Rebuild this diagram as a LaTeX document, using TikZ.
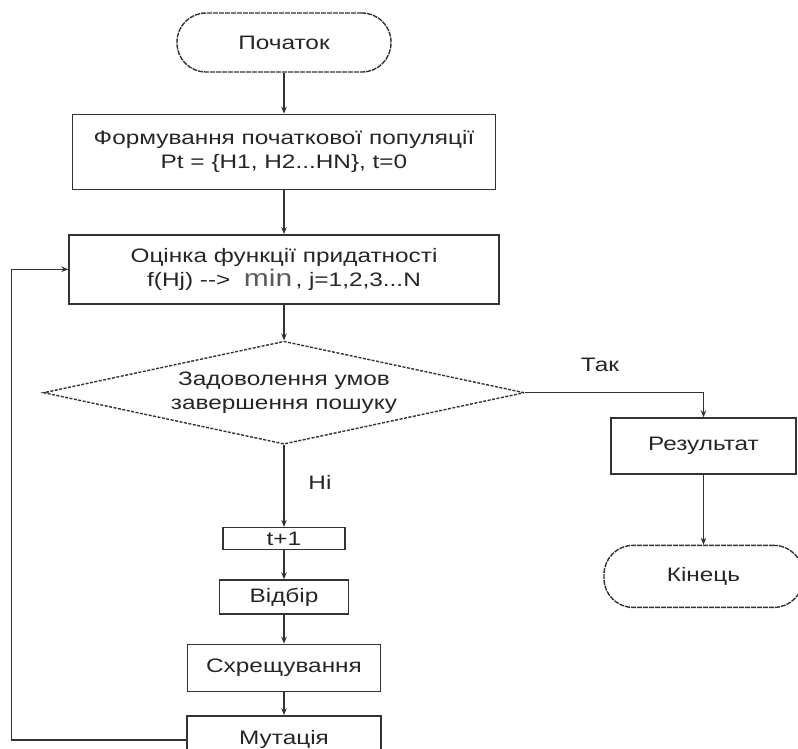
\documentclass[tikz,border=0pt]{standalone}
\usepackage{fontspec}
\setmainfont{Liberation Sans}[FakeStretch=1.25]
\usepackage{tikz}
\usetikzlibrary{positioning,arrows.meta,shapes.geometric}

\begin{document}
\begin{tikzpicture}[x=1pt,y=-1pt,
    font=\fontsize{19.5}{24}\selectfont, text=black!85, line width=1.4pt,
    box/.style={draw=black!80,rectangle,align=center,inner sep=0pt},
    term/.style={draw=black!80,rectangle,rounded corners=29pt,dash pattern=on 5pt off 1pt,inner sep=0pt},
    decision/.style={draw=black!80,diamond,aspect=4.67,dash pattern=on 3pt off 1.5pt,align=center,inner sep=0pt},
    link/.style={draw=black!80,-{Stealth[length=7pt,width=5.5pt]}}]
        \useasboundingbox (0,0) rectangle (798,749);
        \node[term,minimum width=214pt,minimum height=59pt] (start) at (284,42.5) {Початок};
        \node[box,minimum width=423pt,minimum height=75pt,below=41pt of start] (init) {Формування початкової популяції\\Pt = \{H1, H2...HN\}, t=0};
        \node[box,minimum width=430pt,minimum height=69pt,below=44pt of init] (eval) {Оцінка функції придатності\\f(Hj) {-}{-}>\ \ {\fontsize{24}{24}\selectfont\color{black!65}min}\,, j=1,2,3...N};
        \node[decision,minimum width=481pt,minimum height=103pt,below=36pt of eval] (check) {Задоволення умов\\завершення пошуку};
        \node[box,minimum width=122pt,minimum height=22pt,below=82pt of check] (next) {t+1};
        \node[box,minimum width=129pt,minimum height=34pt,below=29pt of next] (select) {Відбір};
        \node[box,minimum width=193pt,minimum height=47pt,below=29pt of select] (cross) {Схрещування};
        \node[box,minimum width=194pt,minimum height=48pt,below=23pt of cross] (mutate) {Мутація};
        \node[box,minimum width=185pt,minimum height=56pt] (result) at (703.5,446) {Результат};
        \node[term,minimum width=199pt,minimum height=62pt,below=70pt of result] (finish) {Кінець};
        \node (yes) at (600,365) {Так};
        \node (no) at (320,482) {Ні};
        \draw[link] (start) -- (init);
        \draw[link] (init) -- (eval);
        \draw[link] (eval) -- (check);
        \draw[link] (check) -- (next);
        \draw[link] (next) -- (select);
        \draw[link] (select) -- (cross);
        \draw[link] (cross) -- (mutate);
        \draw[link] (check.east) -| (result.north);
        \draw[link] (result) -- (finish);
        \draw[link] (mutate.west) -- ++(-175,0) |- (eval.west);
\end{tikzpicture}
\end{document}
